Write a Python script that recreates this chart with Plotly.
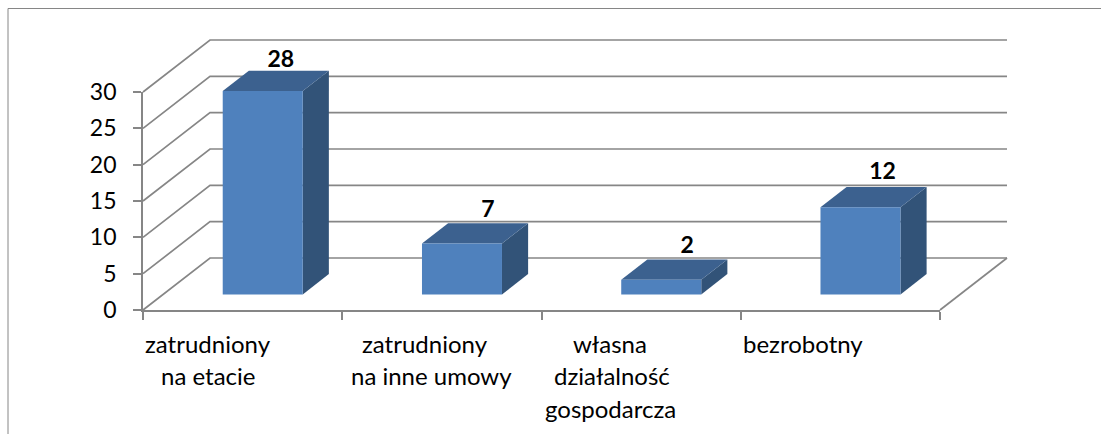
import plotly.graph_objects as go

categories = [["zatrudniony", "na etacie"], ["zatrudniony", "na inne umowy"],
              ["własna", "działalność", "gospodarcza"], ["bezrobotny"]]
values = [28, 7, 2, 12]
y_ticks = [0, 5, 10, 15, 20, 25, 30]

W, H = 1101, 434
X0, X1, Y0, Y30 = 143.0, 940.0, 310.0, 92.0
XU = (X1 - X0) / 4
YU = (Y0 - Y30) / 30
DX = 67 / XU      # full depth, in x-units
DY = 52 / YU      # full depth, in y-units
FRONT, BACK = 0.30, 0.69
BAR_W = 80 / XU

GRID = "#868686"
LW = 1.7
FACE, SIDE, TOP = "#4f81bd", "#325378", "#3c618f"
FONT = "Lato"


def px(x, y, d):
    return x + d * DX, y + d * DY


def poly(pts, color):
    xs = [p[0] for p in pts] + [pts[0][0]]
    ys = [p[1] for p in pts] + [pts[0][1]]
    return go.Scatter(x=xs, y=ys, mode="lines", fill="toself", fillcolor=color,
                      line=dict(width=0, color=color), hoverinfo="skip",
                      showlegend=False, cliponaxis=False)


fig = go.Figure()

# walls and floor
for v in y_ticks:
    a = px(0, v, 0)
    b = px(0, v, 1)
    c = px(4, v, 1)
    fig.add_trace(go.Scatter(x=[a[0], b[0], c[0]], y=[a[1], b[1], c[1]], mode="lines",
                             line=dict(color=GRID, width=LW), hoverinfo="skip",
                             showlegend=False, cliponaxis=False))
e = px(4, 0, 1)
fig.add_trace(go.Scatter(x=[4, e[0]], y=[0, e[1]], mode="lines",
                         line=dict(color=GRID, width=LW), hoverinfo="skip",
                         showlegend=False, cliponaxis=False))

# bars
for i, v in enumerate(values):
    cx = i + 0.5
    l, r = cx - BAR_W / 2, cx + BAR_W / 2
    fb_l, fb_r = px(l, 0, FRONT), px(r, 0, FRONT)
    ft_l, ft_r = px(l, v, FRONT), px(r, v, FRONT)
    bb_r = px(r, 0, BACK)
    bt_l, bt_r = px(l, v, BACK), px(r, v, BACK)
    fig.add_trace(poly([fb_r, bb_r, bt_r, ft_r], SIDE))
    fig.add_trace(poly([ft_l, ft_r, bt_r, bt_l], TOP))
    fig.add_trace(poly([fb_l, fb_r, ft_r, ft_l], FACE))

# value labels
label_dx = [5, 13, 13, 9]
label_dy = [-2, 1, 1, 2]
lx = [px(i + 0.5, v, (FRONT + BACK) / 2)[0] + label_dx[i] / XU for i, v in enumerate(values)]
ly = [px(i + 0.5, v, BACK)[1] + label_dy[i] / YU for i, v in enumerate(values)]
fig.add_trace(go.Scatter(x=lx, y=ly, mode="text", text=[str(v) for v in values],
                         textposition="top center",
                         textfont=dict(family=FONT, size=23, color="black", weight="bold"),
                         hoverinfo="skip", showlegend=False, cliponaxis=False))

# carrier for the visible axes
fig.add_trace(go.Scatter(x=[0, 4], y=[0, 30], mode="lines", line=dict(width=0), opacity=0,
                         hoverinfo="skip", showlegend=False, xaxis="x2", yaxis="y2"))

# category labels
label_centres = [[208, 208], [425, 431], [610, 612, 610], [803]]
annotations = []
for cats, cs in zip(categories, label_centres):
    for j, (line, c) in enumerate(zip(cats, cs)):
        annotations.append(dict(x=c / W, y=1 - (343 + 32.5 * j) / H, xref="paper", yref="paper",
                                text=line, showarrow=False, xanchor="center", yanchor="middle",
                                font=dict(family=FONT, size=24, color="black")))

fig.update_layout(
    width=W, height=H, margin=dict(l=0, r=0, t=0, b=0, pad=0, autoexpand=False),
    paper_bgcolor="white", plot_bgcolor="rgba(0,0,0,0)", showlegend=False,
    font=dict(family=FONT, size=23, color="black"),
    # full-canvas plotting axes, aligned with the visible ones
    xaxis=dict(domain=[0, 1], range=[-X0 / XU, (W - X0) / XU], visible=False),
    yaxis=dict(domain=[0, 1], range=[-(H - Y0) / YU, Y0 / YU], visible=False),
    xaxis2=dict(domain=[X0 / W, X1 / W], range=[0, 4], anchor="y2", tickmode="array",
                tickvals=[0, 1, 2, 3, 4], ticktext=[""] * 5, ticks="outside", ticklen=8,
                tickwidth=LW, tickcolor=GRID, showgrid=False, zeroline=False,
                showline=True, linecolor=GRID, linewidth=LW),
    yaxis2=dict(domain=[(H - Y0) / H, (H - Y30) / H], range=[0, 30], anchor="x2", tickmode="array",
                tickvals=y_ticks, ticks="outside", ticklen=8, tickwidth=LW, tickcolor=GRID,
                showgrid=False, zeroline=False, showline=True, linecolor=GRID, linewidth=LW,
                ticklabelstandoff=12, tickfont=dict(family=FONT, size=23, color="black")),
    annotations=annotations,
    shapes=[
        dict(type="line", xref="paper", yref="paper", x0=8 / W, x1=1, y0=1 - 8.5 / H, y1=1 - 8.5 / H,
             line=dict(color=GRID, width=1)),
        dict(type="line", xref="paper", yref="paper", x0=8 / W, x1=8 / W, y0=1 - 8.5 / H, y1=0,
             line=dict(color=GRID, width=1)),
    ],
)

fig.write_html("out.html", config=dict(displayModeBar=False),
               post_script="document.body.style.margin='0';document.body.style.overflow='hidden';"
                           "window.dispatchEvent(new Event('resize'));")
